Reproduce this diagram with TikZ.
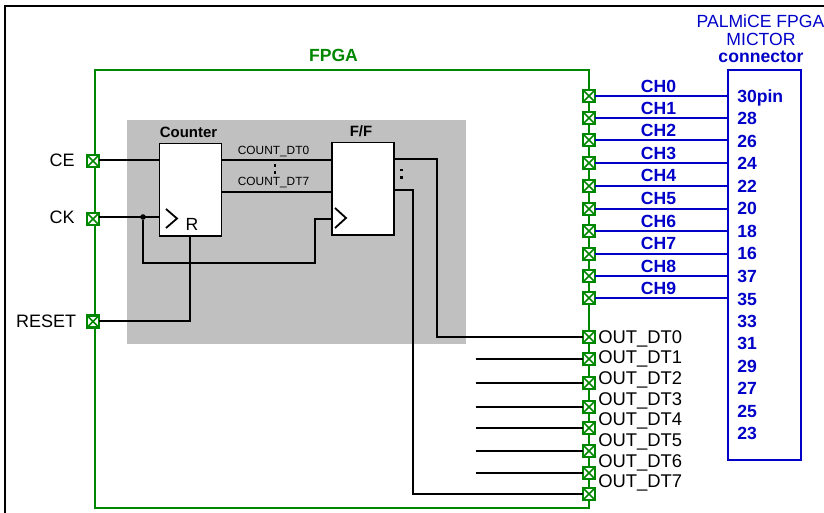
\documentclass[tikz,border=0pt]{standalone}
\usepackage{fontspec}
\setmainfont{Liberation Sans}
\definecolor{pgreen}{RGB}{0,135,0}
\definecolor{pblue}{RGB}{0,0,200}
\definecolor{pgray}{RGB}{192,192,192}
\tikzset{
  px/.style={x=0.75pt,y=-0.75pt},
  wire/.style={draw=black,line width=1.35pt},
  bluewire/.style={draw=pblue,line width=1.8pt},
  block/.style={draw=black,fill=white,line width=1.4pt,inner sep=0pt,outer sep=0pt,minimum width=46.5pt,minimum height=69.5pt},
  port/.style={draw=pgreen,fill=white,line width=1.6pt,inner sep=0pt,outer sep=0pt,minimum size=9pt,
    path picture={\draw[pgreen,line width=1.2pt] (path picture bounding box.south west)--(path picture bounding box.north east)
      (path picture bounding box.north west)--(path picture bounding box.south east);}},
  big/.style={font=\fontsize{13.5pt}{13.5pt}\selectfont,inner sep=0pt},
  bigb/.style={font=\fontsize{13.2pt}{13.2pt}\selectfont\bfseries,inner sep=0pt},
  mid/.style={font=\fontsize{11.2pt}{11.2pt}\selectfont\bfseries,inner sep=0pt},
  small/.style={font=\fontsize{8.9pt}{8.9pt}\selectfont,inner sep=0pt},
  dotc/.style={circle,fill=black,inner sep=0pt,minimum size=4.2pt},
}
\begin{document}
\begin{tikzpicture}[px]
\useasboundingbox (0,0) rectangle (824,513);
% frame
\coordinate (fa) at (5,513); \coordinate (fb) at (5,6); \coordinate (fc) at (824,6);
\draw[black,line width=1.6pt] (fa)--(fb)--(fc);
% FPGA box
\node[draw=pgreen,line width=1.9pt,inner sep=0pt,outer sep=0pt,minimum width=370.5pt,minimum height=328.5pt,anchor=north west] (fpga) at (95,70) {};
\node[bigb,text=pgreen,anchor=base] (fpgat) at (333.5,62) {FPGA};
% grey area
\node[fill=pgray,inner sep=0pt,outer sep=0pt,minimum width=254.25pt,minimum height=168pt,anchor=north west] (grey) at (127,120) {};
% blocks
\node[block,anchor=north west] (cnt) at (159.5,143.5) {};
\node[block,anchor=north west] (ff) at (332,142.5) {};
\node[mid,anchor=base] (cntt) at (188.5,138) {Counter};
\node[mid,anchor=base] (fft) at (361,137) {F/F};
\node[font=\fontsize{13.2pt}{13.2pt}\selectfont,inner sep=0pt,anchor=base] (rt) at (192,230.5) {R};
\node[small,anchor=base] (c0) at (273.5,154.5) {COUNT\_DT0};
\node[small,anchor=base] (c7) at (273.5,186) {COUNT\_DT7};
% left ports
\node[port] (pce) at (93,161) {};
\node[port] (pck) at (93,219) {};
\node[port] (prs) at (93,321.5) {};
\node[big,anchor=base east] (lce) at (75,166.5) {CE};
\node[big,anchor=base east] (lck) at (75,224) {CK};
\node[big,anchor=base east] (lrs) at (76.5,327) {RESET};
% named wire points
\coordinate (ce) at (159.5,160);
\coordinate (ck) at (159.5,217);
\coordinate (ffck) at (332,219);
\coordinate (c0a) at (221.5,160); \coordinate (c0b) at (332,160);
\coordinate (c7a) at (221.5,192); \coordinate (c7b) at (332,192);
\coordinate (q0) at (393.5,159); \coordinate (q7) at (393.5,190);
\coordinate (r) at (190,235.5);
\node[dotc] (ckdot) at (143,217) {};
\coordinate (ckb) at (143,263); \coordinate (ckc) at (315,263);
\draw[wire] (pce.east|-ce) -- (ce);
\draw[wire] (pck.east|-ck) -- (ck);
\draw[wire] (ckdot) -- (ckb) -- (ckc) -- (ckc|-ffck) -- (ffck);
\draw[wire] (prs.east|-0,321) -- (190,321) -- (r);
\draw[wire] (c0a) -- (c0b);
\draw[wire] (c7a) -- (c7b);
% clock chevrons
\coordinate (k1) at (166,209); \coordinate (k2) at (177,218.5); \coordinate (k3) at (166,228);
\coordinate (k4) at (335,208); \coordinate (k5) at (346,218); \coordinate (k6) at (335,228);
\draw[black,line width=1.35pt] (k1)--(k2)--(k3);
\draw[black,line width=1.35pt] (k4)--(k5)--(k6);
% colons
\foreach \n/\x/\y in {a/275/165.5,b/275/172.5,c/401.5/170,d/401.5/177.5}
  \fill[black] (\x-1.3,\y-1.3) rectangle (\x+1.3,\y+1.3);
% right ports CH
\foreach \n/\y/\ly/\p/\py in {0/96/87/30pin/97,1/118/109/28/119,2/140/131/26/142,3/163/153.5/24/164,4/186/176/22/187,5/209/199/20/209,6/231/221.5/18/232,7/254/244/16/254,8/276/266.5/37/276,9/298/288.5/35/299}{
  \node[port] (ch\n) at (589,\y) {};
  \node[bigb,text=pblue,anchor=base] (cht\n) at (658.5,\ly+6) {CH\n};
  \node[bigb,text=pblue,anchor=base west] (pin\n) at (737,\py+6) {\p};
}
\foreach \p/\py in {33/321,31/343,29/366,27/388,25/411,23/433}
  \node[bigb,text=pblue,anchor=base west] (pin\p) at (737,\py+6) {\p};
% connector
\node[draw=pblue,line width=1.8pt,inner sep=0pt,outer sep=0pt,minimum width=54.75pt,minimum height=292.5pt,anchor=north west] (mic) at (728,70) {};
\foreach \n in {0,...,9}
  \draw[bluewire] (ch\n.east) -- (ch\n.east-|mic.west);
\node[font=\fontsize{13.2pt}{13.2pt}\selectfont,inner sep=0pt,text=pblue,anchor=base] (h1) at (760.5,27.5) {PALMiCE FPGA};
\node[font=\fontsize{13.2pt}{13.2pt}\selectfont,inner sep=0pt,text=pblue,anchor=base] (h2) at (761,45.5) {MICTOR};
\node[bigb,text=pblue,anchor=base] (h3) at (761,63) {connector};
% out ports
\foreach \n/\y/\ly in {0/337/337,1/359/357.5,2/383/378,3/407/399,4/428/419.5,5/451/440,6/473/461,7/494/481.5}{
  \node[port] (o\n) at (589,\y) {};
  \node[font=\fontsize{13.8pt}{13.8pt}\selectfont,inner sep=0pt,anchor=base west] (ot\n) at (598,\ly+6) {OUT\_DT\n};
}
\foreach \n/\y in {1/359,2/383,3/407,4/428,5/451,6/473}{
  \coordinate (s\n) at (475.5,\y);
  \draw[wire] (s\n) -- (o\n.west|-s\n);
}
\coordinate (q0x) at (437,159); \coordinate (q7x) at (413,190);
\draw[wire] (q0) -- (q0x) -- (q0x|-o0) -- (o0.west);
\draw[wire] (q7) -- (q7x) -- (q7x|-o7) -- (o7.west);
\end{tikzpicture}
\end{document}
